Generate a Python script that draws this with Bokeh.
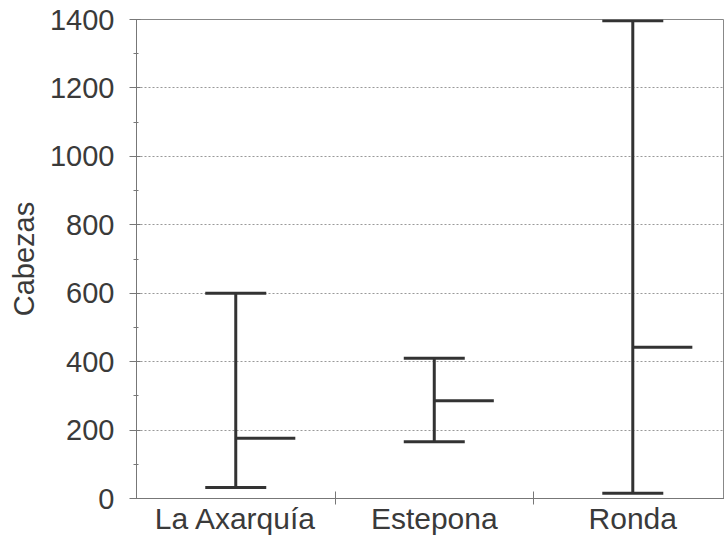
from bokeh.plotting import figure
from bokeh.models import Range1d, FixedTicker, Whisker, TeeHead, ColumnDataSource
from bokeh.embed import file_html
from bokeh.resources import INLINE

# ---- data ----
categories = ["La Axarquía", "Estepona", "Ronda"]
min_values = [32, 166, 15]
mean_values = [176, 286, 442]
max_values = [600, 410, 1396]
y_tick_values = [0, 200, 400, 600, 800, 1000, 1200, 1400]
y_minor_ticks = [100, 300, 500, 700, 900, 1100, 1300]

INK = "#333333"
TEXT = "#3a3a3a"
FONT = "Liberation Sans"

xs = [i + 0.5 for i in range(len(categories))]
separators = [i for i in range(1, len(categories))]
src = ColumnDataSource(dict(
    x=xs,
    lo=min_values,
    hi=max_values,
    mean=mean_values,
    mean_end=[x + 0.3 for x in xs],
    cat=categories,
))

p = figure(width=724, height=537,
           x_range=Range1d(0, 2.962), y_range=Range1d(0, 1400),
           output_backend="svg", toolbar_location=None,
           min_border_left=136, min_border_right=0,
           min_border_top=19, min_border_bottom=39)

p.background_fill_color = "white"
p.border_fill_color = "white"
p.outline_line_color = "#888888"
p.outline_line_width = 1

# whiskers (min-max with caps)
whisker = Whisker(source=src, base="x", lower="lo", upper="hi",
                  line_color=INK, line_width=3,
                  upper_head=TeeHead(size=61, line_color=INK, line_width=3),
                  lower_head=TeeHead(size=61, line_color=INK, line_width=3))
p.add_layout(whisker)

# mean ticks
p.segment(x0="x", y0="mean", x1="mean_end", y1="mean", source=src,
          line_color=INK, line_width=3)

# y axis
yax = p.yaxis[0]
yax.ticker = FixedTicker(ticks=y_tick_values, minor_ticks=y_minor_ticks)
yax.major_label_text_font = FONT
yax.major_label_text_font_size = "29px"
yax.major_label_text_color = TEXT
yax.axis_label = "Cabezas"
yax.axis_label_text_font = FONT
yax.axis_label_text_font_size = "29px"
yax.axis_label_text_font_style = "normal"
yax.axis_label_text_color = TEXT
yax.axis_label_standoff = 7
yax.major_label_standoff = 15
yax.major_tick_out = 7
yax.major_tick_in = 4
yax.minor_tick_in = 2
yax.minor_tick_out = 3
yax.axis_line_color = "#777777"
yax.major_tick_line_color = "#777777"
yax.minor_tick_line_color = "#777777"

# x axis: category names at centres, separators as minor ticks
xax = p.xaxis[0]
xax.ticker = FixedTicker(ticks=xs, minor_ticks=separators)
xax.major_label_overrides = {x: c for x, c in zip(xs, categories)}
xax.major_label_text_font = FONT
xax.major_label_text_font_size = "30px"
xax.major_label_text_color = TEXT
xax.major_label_standoff = -3
xax.minor_tick_in = 7
xax.minor_tick_out = 6
xax.major_tick_out = 0
xax.major_tick_in = 0
xax.axis_line_color = "#777777"
xax.minor_tick_line_color = "#777777"

p.xgrid.visible = False
p.ygrid.grid_line_color = "#999999"
p.ygrid.grid_line_dash = "2 2"
p.ygrid.grid_line_width = 1

open("out.html", "w").write(file_html(p, INLINE))
